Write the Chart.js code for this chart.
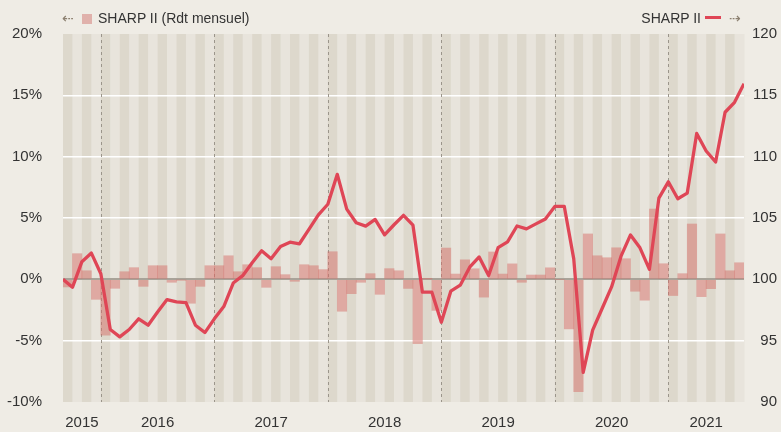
<!DOCTYPE html>
<html lang="fr">
  <head>
    <meta charset="UTF-8" />
    <title>SHARP II</title>
    <style>
      body {
        margin: 0;
        background-color: #efece5;
        font-family: "Liberation Sans", Arial, sans-serif;
      }
      .wrap {
        position: relative;
        width: 781px;
        height: 432px;
      }
      .legend {
        position: absolute;
        top: 8px;
        font-size: 14px;
        color: #333;
        line-height: 20px;
        white-space: nowrap;
      }
      .arrow {
        color: #8c8070;
        font-size: 14px;
      }
      .swatch {
        display: inline-block;
        width: 10px;
        height: 10px;
        background: #e0b1ab;
        margin: 0 6px 0 8px;
        vertical-align: -1px;
      }
      .dash {
        display: inline-block;
        width: 16px;
        height: 3px;
        background: #df4656;
        margin: 0 8px 0 4px;
        vertical-align: 4px;
      }
    </style>
    <script src="https://cdn.jsdelivr.net/npm/chart.js@4.4.1/dist/chart.umd.min.js"></script>
  </head>
  <body>
    <div class="wrap">
      <canvas id="chart" width="781" height="432"></canvas>
      <div class="legend" style="left: 62px">
        <span class="arrow">&#8672;</span><span class="swatch"></span>SHARP II (Rdt mensuel)
      </div>
      <div class="legend" style="right: 40px">
        SHARP II<span class="dash"></span><span class="arrow">&#8674;</span>
      </div>
    </div>

    <script>
      // rendement mensuel (%), sept. 2015 -> aout 2021
      const rdtMensuel = [
        -0.62, 2.09, 0.7, -1.63, -4.55, -0.73, 0.62, 0.95, -0.57, 1.11, 1.11, -0.24,
        -0.05, -1.95, -0.57, 1.11, 1.11, 1.92, 0.62, 1.19, 0.95, -0.65, 1.03, 0.38,
        -0.16, 1.19, 1.11, 0.79, 2.25, -2.6, -1.17, -0.24, 0.46, -1.22, 0.87, 0.7,
        -0.74, -5.24, 0.02, -2.53, 2.55, 0.43, 1.59, 0.86, -1.45, 2.23, 0.43, 1.26,
        -0.24, 0.35, 0.35, 0.94, 0.0, -4.04, -9.16, 3.7, 1.92, 1.76, 2.57, 1.68,
        -0.97, -1.7, 5.73, 1.27, -1.32, 0.46, 4.51, -1.41, -0.76, 3.7, 0.7, 1.35,
      ];

      // valeur liquidative base 100 (fin de mois)
      const vl = [
        100, 99.35, 101.44, 102.14, 100.46, 95.91, 95.31, 95.91, 96.78, 96.26,
        97.34, 98.35, 98.16, 98.1, 96.26, 95.66, 96.78, 97.78, 99.7, 100.3,
        101.35, 102.33, 101.68, 102.68, 103.03, 102.9, 104.07, 105.26, 106.12, 108.56,
        105.72, 104.61, 104.34, 104.88, 103.63, 104.45, 105.22, 104.41, 98.95, 98.95,
        96.51, 99.03, 99.52, 100.99, 101.83, 100.32, 102.58, 103.06, 104.35, 104.11,
        104.52, 104.92, 105.94, 105.94, 101.67, 92.41, 95.86, 97.62, 99.38, 101.89,
        103.62, 102.57, 100.81, 106.62, 107.95, 106.57, 107.03, 111.89, 110.46, 109.57,
        113.62, 114.43, 115.95,
      ];

      // etiquettes des annees (position au milieu de chaque annee, en mois)
      const annees = ["2015", "2016", "2017", "2018", "2019", "2020", "2021"];
      const posAnnees = [2, 10, 22, 34, 46, 58, 68];
      const debutsAnnee = [4, 16, 28, 40, 52, 64];

      // fond raye + separateurs d'annee
      const fondPlugin = {
        id: "fond",
        beforeDraw(chart) {
          const { ctx, chartArea } = chart;
          const xs = chart.scales.x;
          ctx.save();
          for (let i = 0; i < rdtMensuel.length; i++) {
            const x0 = xs.getPixelForValue(i);
            const x1 = xs.getPixelForValue(i + 1);
            ctx.fillStyle = i % 2 === 0 ? "#ddd8cc" : "#e8e4dc";
            ctx.fillRect(x0, chartArea.top, x1 - x0 + 0.5, chartArea.bottom - chartArea.top);
          }
          ctx.restore();
        },
        beforeDatasetsDraw(chart) {
          const { ctx, chartArea } = chart;
          const xs = chart.scales.x;
          ctx.save();
          ctx.strokeStyle = "#9b958b";
          ctx.lineWidth = 1;
          ctx.setLineDash([3, 3]);
          debutsAnnee.forEach((m) => {
            const x = Math.round(xs.getPixelForValue(m)) + 0.5;
            ctx.beginPath();
            ctx.moveTo(x, chartArea.top);
            ctx.lineTo(x, chartArea.bottom);
            ctx.stroke();
          });
          ctx.restore();
        },
      };

      const police = { family: "'Liberation Sans', Arial, sans-serif", size: 15 };

      new Chart(document.getElementById("chart"), {
        data: {
          datasets: [
            {
              type: "line",
              data: vl.map((v, i) => ({ x: i, y: v })),
              yAxisID: "y2",
              borderColor: "#df4656",
              borderWidth: 3.3,
              pointRadius: 0,
              tension: 0,
              borderJoinStyle: "round",
            },
            {
              type: "bar",
              data: rdtMensuel.map((v, i) => ({ x: i + 0.5, y: v })),
              yAxisID: "y",
              backgroundColor: "rgba(214, 110, 104, 0.5)",
              borderWidth: 0,
              grouped: false,
              barPercentage: 1,
              categoryPercentage: 1,
            },
          ],
        },
        plugins: [fondPlugin],
        options: {
          responsive: false,
          animation: false,
          layout: { padding: { top: 34, right: 4, left: 0, bottom: 0 } },
          plugins: {
            legend: { display: false },
            tooltip: { enabled: false },
          },
          scales: {
            x: {
              type: "linear",
              position: "bottom",
              min: 0,
              max: 72,
              offset: false,
              grid: { display: false, drawTicks: false },
              border: { display: false },
              afterBuildTicks(scale) {
                scale.ticks = posAnnees.map((v) => ({ value: v }));
              },
              afterFit(scale) {
                scale.height = 27;
              },
              ticks: {
                autoSkip: false,
                maxRotation: 0,
                padding: 12,
                color: "#333",
                font: police,
                callback: (v) => annees[posAnnees.indexOf(v)],
              },
            },
            y: {
              position: "left",
              min: -10,
              max: 20,
              afterFit(scale) {
                scale.width = 63;
              },
              ticks: {
                stepSize: 5,
                padding: 21,
                color: "#333",
                font: police,
                callback: (v) => v + "%",
              },
              border: { display: false },
              grid: {
                drawTicks: false,
                color: (c) =>
                  c.tick.value === 0
                    ? "#a9a399"
                    : c.tick.value === 20 || c.tick.value === -10
                    ? "rgba(0,0,0,0)"
                    : "#ffffff",
                lineWidth: (c) => (c.tick.value === 0 ? 2 : 1.5),
              },
            },
            y2: {
              position: "right",
              min: 90,
              max: 120,
              afterFit(scale) {
                scale.width = 33;
              },
              ticks: {
                stepSize: 5,
                crossAlign: "far",
                color: "#333",
                font: police,
              },
              border: { display: false },
              grid: { display: false, drawTicks: false },
            },
          },
        },
      });
    </script>
  </body>
</html>
